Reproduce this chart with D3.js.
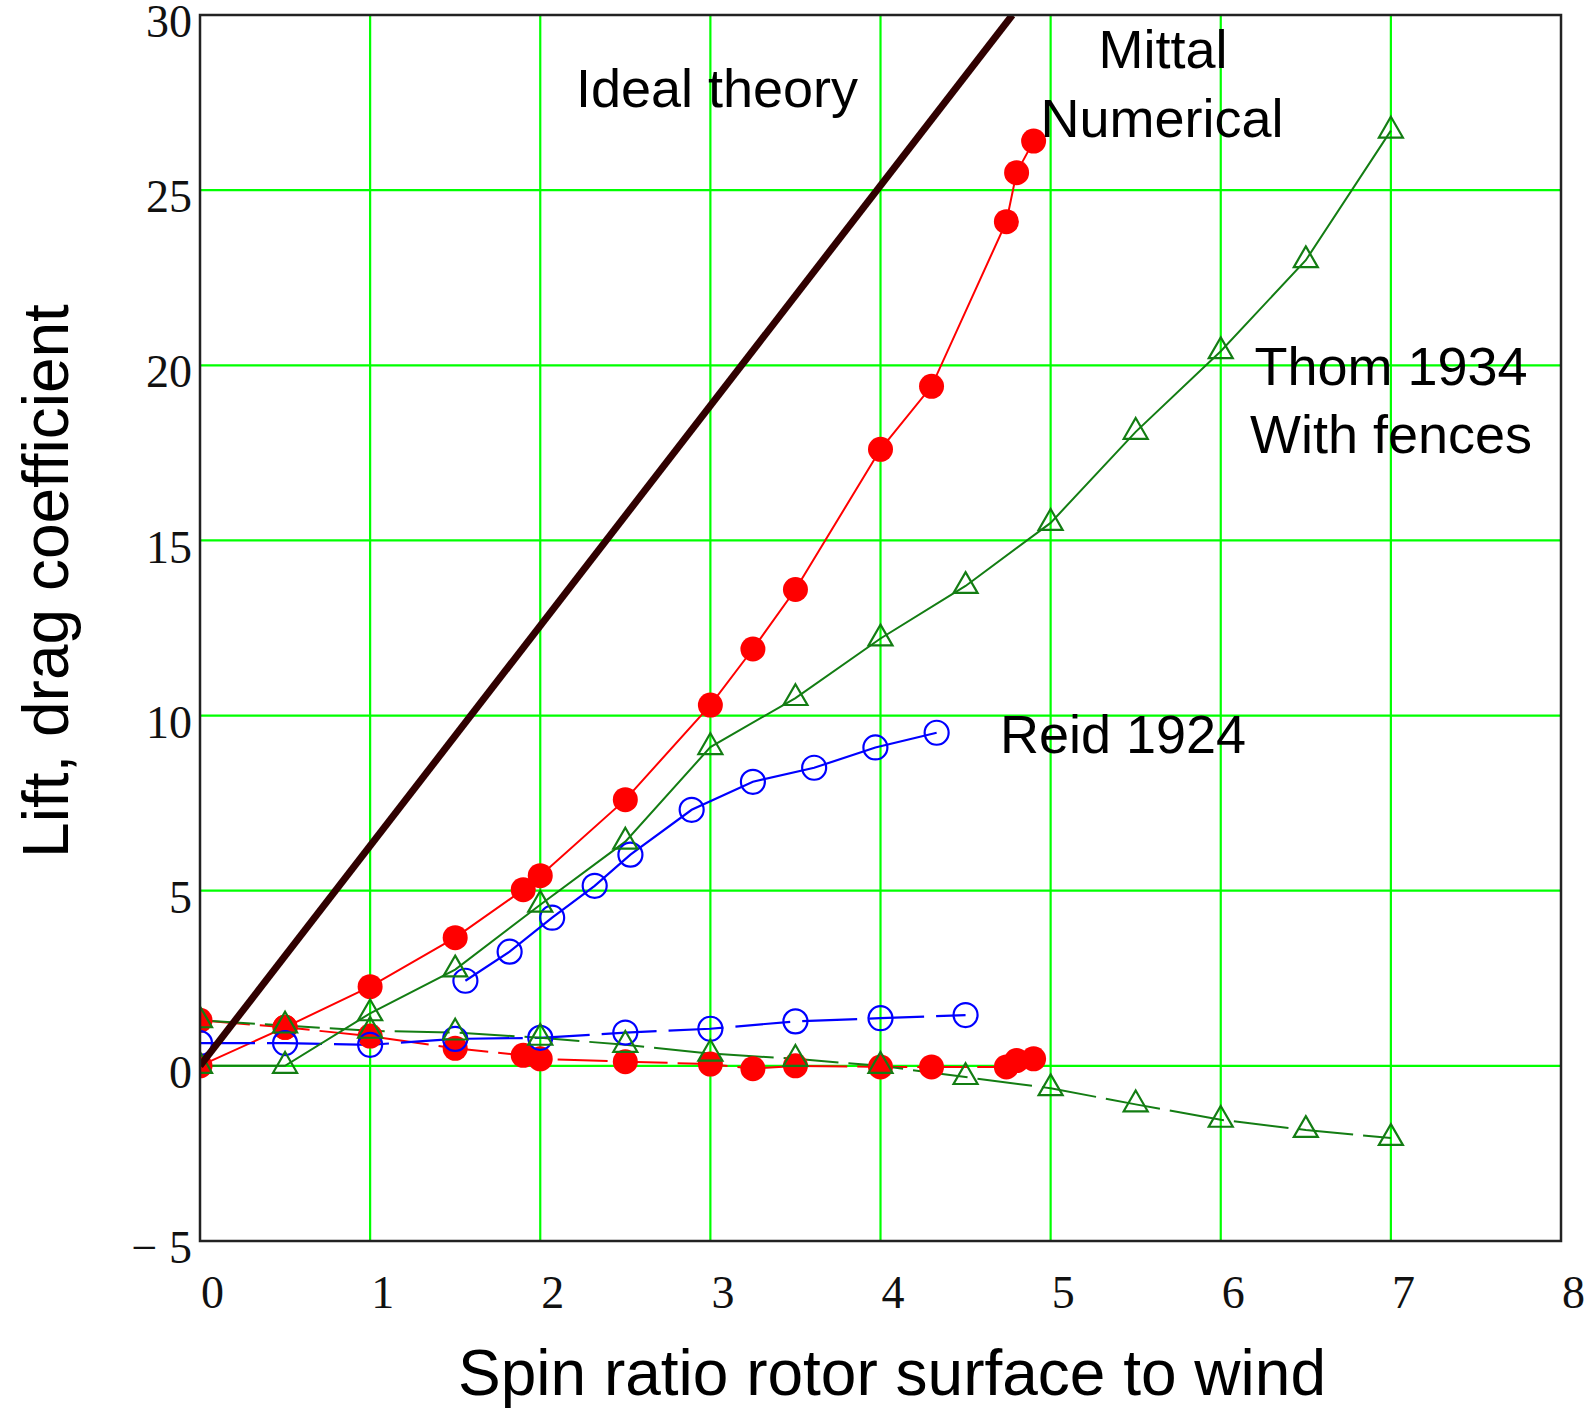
<html><head><title>Lift and drag of a spinning rotor</title>
<script src="https://cdnjs.cloudflare.com/ajax/libs/d3/7.8.5/d3.min.js"></script>
<style>
    body {
        margin: 0;
        background: #ffffff;
    }
    .tick-label {
        font-family: 'Liberation Serif', 'Times New Roman', serif;
        font-size: 46px;
        fill: #111;
    }
    .note {
        font-family: 'Liberation Sans', Arial, sans-serif;
        font-size: 54px;
        fill: #000;
    }
    .axis-title {
        font-family: 'Liberation Sans', Arial, sans-serif;
        font-size: 64px;
        fill: #000;
    }
</style>
</head>
<body>
<svg id="chart" width="1595" height="1408"></svg>
<script>
// ideal theory, CL = 2*pi*alpha
const idealX = [0, 4.775];
const idealY = [0, 30];

// Mittal numerical (red filled circles)
const mittalX    = [0, 0.5, 1, 1.5, 1.9, 2, 2.5, 3, 3.25, 3.5, 4, 4.3, 4.74, 4.8, 4.9];
const mittalLift = [0, 1.1, 2.26, 3.66, 5.03, 5.43, 7.6, 10.3, 11.9, 13.6, 17.6, 19.4, 24.1, 25.5, 26.4];
const mittalDrag = [1.3, 1.1, 0.85, 0.5, 0.3, 0.2, 0.12, 0.05, -0.08, 0.0, -0.03, -0.03, -0.03, 0.15, 0.2];

// Reid 1924 (blue open circles)
const reidLiftX = [1.56, 1.82, 2.07, 2.32, 2.53, 2.89, 3.25, 3.61, 3.97, 4.33];
const reidLift  = [2.43, 3.26, 4.23, 5.14, 6.03, 7.31, 8.11, 8.51, 9.09, 9.51];
const reidDragX = [0, 0.5, 1, 1.5, 2, 2.5, 3, 3.5, 4, 4.5];
const reidDrag  = [0.65, 0.65, 0.6, 0.77, 0.8, 0.95, 1.06, 1.27, 1.36, 1.45];

// Thom 1934 with fences (green open triangles)
const thomX    = [0, 0.5, 1, 1.5, 2, 2.5, 3, 3.5, 4, 4.5, 5, 5.5, 6, 6.5, 7];
const thomLift = [0, 0, 1.5, 2.75, 4.6, 6.4, 9.1, 10.5, 12.2, 13.7, 15.5, 18.1, 20.4, 23.0, 26.7];
const thomDrag = [1.3, 1.15, 1.0, 0.95, 0.8, 0.6, 0.35, 0.2, 0.0, -0.32, -0.64, -1.1, -1.54, -1.83, -2.06];

const xTicks = [0, 1, 2, 3, 4, 5, 6, 7, 8];
const yTicks = [-5, 0, 5, 10, 15, 20, 25, 30];

const svg = d3.select("#chart");
const plotL = 200, plotR = 1561, plotT = 15, plotB = 1241;

const x = d3.scaleLinear().domain([0, 8]).range([plotL, plotR]);
const y = d3.scaleLinear().domain([-5, 30]).range([plotB, plotT]);

svg.append("defs").append("clipPath").attr("id", "plotArea")
    .append("rect")
    .attr("x", plotL).attr("y", plotT)
    .attr("width", plotR - plotL).attr("height", plotB - plotT);

// green grid
const grid = svg.append("g");
grid.selectAll(".vg").data(xTicks.slice(1, -1)).join("line")
    .attr("x1", d => x(d)).attr("x2", d => x(d))
    .attr("y1", plotT).attr("y2", plotB)
    .attr("stroke", "#00ff00").attr("stroke-width", 2.2);
grid.selectAll(".hg").data(yTicks.slice(1, -1)).join("line")
    .attr("x1", plotL).attr("x2", plotR)
    .attr("y1", d => y(d)).attr("y2", d => y(d))
    .attr("stroke", "#00ff00").attr("stroke-width", 2.2);

const plot = svg.append("g").attr("clip-path", "url(#plotArea)");
const line = d3.line().x(d => x(d[0])).y(d => y(d[1]));
const zip = (a, b) => a.map((v, i) => [v, b[i]]);

function drawSeries(pts, color, width, dash) {
    plot.append("path")
        .datum(pts)
        .attr("fill", "none")
        .attr("stroke", color)
        .attr("stroke-width", width)
        .attr("stroke-dasharray", dash || null)
        .attr("d", line);
}

const red = "#ff0000", blue = "#0000ff", green = "#137d13";

// Mittal
drawSeries(zip(mittalX, mittalLift), red, 2);
drawSeries(zip(mittalX, mittalDrag), red, 2, "50,10");
// Reid
drawSeries(zip(reidLiftX, reidLift), blue, 2.2);
drawSeries(zip(reidDragX, reidDrag), blue, 2.2, "55,12");
// Thom
drawSeries(zip(thomX, thomLift), green, 2);
drawSeries(zip(thomX, thomDrag), green, 2, "55,10");

// markers
const redPts = zip(mittalX, mittalLift).concat(zip(mittalX, mittalDrag));
plot.selectAll(".redDot").data(redPts).join("circle")
    .attr("cx", d => x(d[0])).attr("cy", d => y(d[1]))
    .attr("r", 12.5).attr("fill", red);

const bluePts = zip(reidLiftX, reidLift).concat(zip(reidDragX, reidDrag));
plot.selectAll(".blueDot").data(bluePts).join("circle")
    .attr("cx", d => x(d[0])).attr("cy", d => y(d[1]))
    .attr("r", 12).attr("fill", "none")
    .attr("stroke", blue).attr("stroke-width", 2.2);

const greenPts = zip(thomX, thomLift).concat(zip(thomX, thomDrag));
const tri = d3.symbol(d3.symbolTriangle, 250);
plot.selectAll(".greenTri").data(greenPts).join("path")
    .attr("transform", d => `translate(${x(d[0])},${y(d[1])})`)
    .attr("d", tri)
    .attr("fill", "none")
    .attr("stroke", green).attr("stroke-width", 2.2);

// ideal theory
plot.append("path")
    .datum(zip(idealX, idealY))
    .attr("fill", "none")
    .attr("stroke", "#300000")
    .attr("stroke-width", 7)
    .attr("d", line);

// frame
svg.append("rect")
    .attr("x", plotL).attr("y", plotT)
    .attr("width", plotR - plotL).attr("height", plotB - plotT)
    .attr("fill", "none").attr("stroke", "#222").attr("stroke-width", 2.5);

// axes (labels only)
const yAxis = svg.append("g")
    .attr("transform", `translate(${plotL},0)`)
    .call(d3.axisLeft(y).tickValues(yTicks).tickSize(0).tickPadding(8)
        .tickFormat(d => d < 0 ? "\u2212 " + Math.abs(d) : d));
yAxis.select(".domain").remove();
yAxis.selectAll("text").attr("class", "tick-label").attr("dy", "0.47em");
yAxis.attr("font-family", null).attr("font-size", null);

const xAxis = svg.append("g")
    .attr("transform", `translate(0,${plotB})`)
    .call(d3.axisBottom(x).tickValues(xTicks).tickSize(0).tickPadding(34));
xAxis.select(".domain").remove();
xAxis.selectAll("text").attr("class", "tick-label").attr("dx", 12);
xAxis.attr("font-family", null).attr("font-size", null);

// annotations
const notes = [
    {t: "Ideal theory", x: 717, y: 107},
    {t: "Mittal", x: 1163, y: 68},
    {t: "Numerical", x: 1162, y: 137},
    {t: "Thom 1934", x: 1391, y: 385},
    {t: "With fences", x: 1391, y: 453},
    {t: "Reid 1924", x: 1123, y: 753}
];
svg.selectAll(".note").data(notes).join("text")
    .attr("class", "note")
    .attr("x", d => d.x).attr("y", d => d.y)
    .attr("text-anchor", "middle")
    .text(d => d.t);

svg.append("text")
    .attr("class", "axis-title")
    .attr("x", 892).attr("y", 1395)
    .attr("text-anchor", "middle")
    .text("Spin ratio rotor surface to wind");

svg.append("text")
    .attr("class", "axis-title")
    .attr("transform", "translate(68,581) rotate(-90)")
    .attr("text-anchor", "middle")
    .text("Lift, drag coefficient");
</script>
</body>
</html>
